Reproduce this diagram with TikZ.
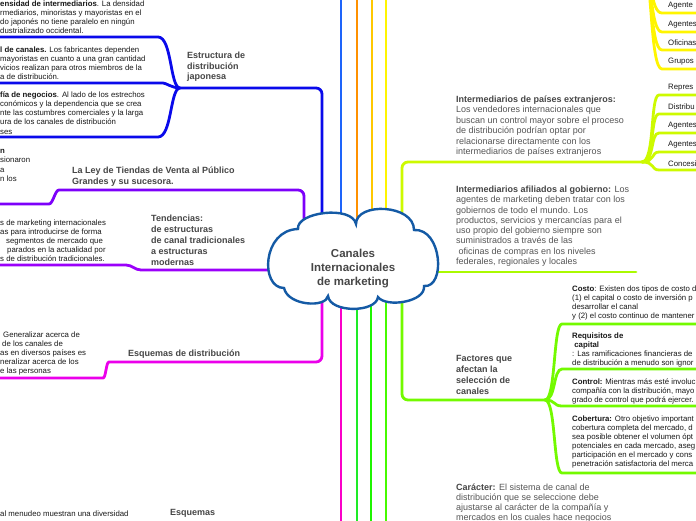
\documentclass[tikz,border=0pt]{standalone}
\usepackage{fontspec}
\setmainfont{Liberation Sans}
\definecolor{cBlue}{RGB}{10,10,235}
\definecolor{cBlueB}{RGB}{30,100,250}
\definecolor{cOrange}{RGB}{255,145,0}
\definecolor{cGold}{RGB}{255,200,0}
\definecolor{cYellow}{RGB}{255,245,0}
\definecolor{cLimeA}{RGB}{205,250,0}
\definecolor{cLimeB}{RGB}{170,250,0}
\definecolor{cLimeC}{RGB}{115,250,0}
\definecolor{cGreenA}{RGB}{70,250,0}
\definecolor{cGreenB}{RGB}{30,245,0}
\definecolor{cGreenC}{RGB}{30,235,40}
\definecolor{cMagA}{RGB}{235,0,235}
\definecolor{cMagB}{RGB}{250,0,200}
\definecolor{cPurA}{RGB}{155,0,250}
\definecolor{cPurB}{RGB}{125,0,250}
\definecolor{cloudc}{RGB}{20,90,165}
\definecolor{topic}{RGB}{70,70,70}
\definecolor{body}{RGB}{85,85,85}
\definecolor{small}{RGB}{25,25,25}
\tikzset{
  conn/.style={line width=2.8pt, line cap=round, rounded corners=6pt},
  topicT/.style={anchor=north west, inner sep=0pt, align=left, text=topic,
    font=\fontsize{9}{10.6}\selectfont\bfseries},
  bodyT/.style={anchor=north west, inner sep=0pt, align=left, text=body,
    font=\fontsize{9}{10.4}\selectfont},
  smallT/.style={anchor=north west, inner sep=0pt, align=left, text=small,
    font=\fontsize{7.8}{9.2}\selectfont},
  cloudline/.style={draw=cloudc, line width=2.4pt, fill=white, line join=miter},
  centreT/.style={inner sep=0pt, align=center, text=topic,
    font=\fontsize{11.5}{14}\selectfont\bfseries}
}
\begin{document}
\begin{tikzpicture}[x=1pt,y=-1pt]
\useasboundingbox (0,0) rectangle (696,520);
\fill[white] (0,0) rectangle (696,520);
\coordinate (C0) at (352,258);

% ---------- top verticals ----------
\coordinate (v1) at (341,-6);
\coordinate (v2) at (357,-6);
\coordinate (v3) at (372,-6);
\coordinate (v4) at (386,-6);
\draw[conn,cBlueB] (v1 |- C0) -- (v1);
\draw[conn,cOrange] (v2 |- C0) -- (v2);
\draw[conn,cGold] (v3 |- C0) -- (v3);
\draw[conn,cYellow] (v4 |- C0) -- (v4);

% ---------- bottom verticals ----------
\coordinate (w1) at (341,526);
\coordinate (w2) at (357,526);
\coordinate (w3) at (371,526);
\coordinate (w4) at (386,526);
\draw[conn,cMagB] (w1 |- C0) -- (w1);
\draw[conn,cGreenC] (w2 |- C0) -- (w2);
\draw[conn,cGreenB] (w3 |- C0) -- (w3);
\draw[conn,cGreenA] (w4 |- C0) -- (w4);

% ---------- Estructura (blue) ----------
\coordinate (eC) at (322,88);
\coordinate (eB) at (180,88);
\coordinate (eL1) at (152,37);  \coordinate (eE1) at (-6,37);
\coordinate (eL2) at (157,83);  \coordinate (eE2) at (-6,83);
\coordinate (eL3) at (152,137); \coordinate (eE3) at (-6,137);
\draw[conn,cBlue] (eC |- C0) -- (eC) -- (eB);
\draw[conn,cBlue] (eB) .. controls (170,88) and (172,37) .. (eL1) -- (eE1);
\draw[conn,cBlue] (eB) .. controls (172,88) and (166,83) .. (eL2) -- (eE2);
\draw[conn,cBlue] (eB) .. controls (170,88) and (172,137) .. (eL3) -- (eE3);

% ---------- La Ley (purple) ----------
\coordinate (lC) at (304,190);
\coordinate (lB) at (65,190);
\coordinate (lL) at (43,204);
\coordinate (lE) at (-6,204);
\draw[conn,cPurB] (lC |- C0) -- (lC) -- (lB) .. controls (55,190) and (53,204) .. (lL) -- (lE);

% ---------- Tendencias (purple) ----------
\coordinate (tB) at (147,270);
\coordinate (tL) at (120,265);
\coordinate (tE) at (-6,265);
\draw[conn,cPurA] (C0 |- tB) -- (tB) .. controls (135,270) and (132,265) .. (tL) -- (tE);

% ---------- Esquemas de distribucion (magenta) ----------
\coordinate (sC) at (322,362);
\coordinate (sB) at (115,362);
\coordinate (sL) at (97,378);
\coordinate (sE) at (-6,378);
\draw[conn,cMagA] (sC |- C0) -- (sC) -- (sB) .. controls (106,362) and (106,378) .. (sL) -- (sE);

% ---------- Paises extranjeros (lime) ----------
\coordinate (pC) at (402,162);
\coordinate (pB) at (642,162);
\draw[conn,cLimeA] (pC |- C0) -- (pC) -- (pB);
\foreach \yy/\cc in {95/650,114/650,133/650,152/651,170/651}{
  \draw[conn,cLimeA] (pB) .. controls (655,162) and (\cc,\yy) .. (665,\yy) -- (702,\yy);
}

% ---------- Gobierno (lime) ----------
\coordinate (gE) at (636,272);
\draw[conn,cLimeB] (C0 |- gE) -- (gE);

% ---------- Factores (green) ----------
\coordinate (fC) at (402,400);
\coordinate (fB) at (545,400);
\draw[conn,cLimeC] (fC |- C0) -- (fC) -- (fB);
\foreach \yy in {324,369,406,473}{
  \draw[conn,cLimeC] (fB) .. controls (556,400) and (553,\yy) .. (568,\yy) -- (702,\yy);
}

% ---------- yellow fan top right ----------
\coordinate (yB) at (644,-30);
\foreach \yy in {13,32,50,69}{
  \draw[conn,cYellow] (yB) .. controls (652,-30) and (650,\yy) .. (668,\yy) -- (702,\yy);
}

% ---------- central cloud ----------
\coordinate (kA) at (298,229);
\coordinate (kB) at (356,224);
\coordinate (kD) at (414,230);
\coordinate (kE) at (424,286);
\coordinate (kF) at (378,297);
\coordinate (kG) at (328,296);
\coordinate (kH) at (284,288);
\path[cloudline] (kA) .. controls (296,212) and (352,205) .. (kB)
  .. controls (356,202) and (414,204) .. (kD)
  .. controls (442,228) and (446,288) .. (kE)
  .. controls (426,302) and (386,308) .. (kF)
  .. controls (376,313) and (330,313) .. (kG)
  .. controls (326,308) and (288,306) .. (kH)
  .. controls (260,288) and (262,230) .. (kA) -- cycle;
\node[centreT] (Ct) at (353,268.5) {Canales\\Internacionales\\de marketing};

% ---------- left texts ----------
\node[smallT] (n1) at (0,0.5) {\textbf{ensidad de intermediarios}. La densidad\\rmediarios, minoristas y mayoristas en el\\do japonés no tiene paralelo en ningún\\dustrializado occidental.};
\node[smallT] (n2) at (0,46.3) {\textbf{l de canales.} Los fabricantes dependen\\mayoristas en cuanto a una gran cantidad\\vicios realizan para otros miembros de la\\a de distribución.};
\node[smallT] (n3) at (0,91.3) {\textbf{fía de negocios}. Al lado de los estrechos\\conómicos y la dependencia que se crea\\nte las costumbres comerciales y la larga\\ura de los canales de distribución\\ses};
\node[topicT] (estr) at (187,51.7) {Estructura de\\distribución\\japonesa};

\node[smallT] (n4) at (0,149.3) {\textbf{n}\\sionaron\\a\\n los};
\node[topicT, font=\fontsize{9}{11}\selectfont\bfseries] (ley) at (72,166.7) {La Ley de Tiendas de Venta al Público\\Grandes y su sucesora.};

\node[smallT] (n5) at (0,219.3) {s de marketing internacionales\\as para introducirse de forma\\\hspace*{6pt}segmentos de mercado que\\\hspace*{7pt}parados en la actualidad por\\s de distribución tradicionales.};
\node[topicT, font=\fontsize{9}{11}\selectfont\bfseries] (tend) at (151,214.7) {Tendencias:\\de estructuras\\de canal tradicionales\\a estructuras\\modernas};

\node[smallT] (n6) at (0,331.3) {\hspace*{3pt}Generalizar acerca de\\\hspace*{2pt}de los canales de\\as en diversos países es\\neralizar acerca de los\\e las personas};
\node[topicT] (esqd) at (128,349.7) {Esquemas de distribución};

\node[smallT] (n7) at (0,510.3) {al menudeo muestran una diversidad};
\node[topicT] (esq) at (170,509.2) {Esquemas};

% ---------- right texts ----------
\node[bodyT] (pais) at (456,95.7) {\textcolor{topic}{\textbf{Intermediarios de países extranjeros:}}\\Los vendedores internacionales que\\buscan un control mayor sobre el proceso\\de distribución podrían optar por\\relacionarse directamente con los\\intermediarios de países extranjeros};
\node[smallT] (r1) at (668,84.3) {Repres};
\node[smallT] (r2) at (668,103.3) {Distribu};
\node[smallT] (r3) at (668,122.3) {Agentes};
\node[smallT] (r4) at (668,141.3) {Agentes};
\node[smallT] (r5) at (668,160.3) {Concesi};

\node[smallT] (y1) at (668,2.3) {Agente};
\node[smallT] (y2) at (668,21.3) {Agentes};
\node[smallT] (y3) at (668,39.3) {Oficinas};
\node[smallT] (y4) at (668,58.3) {Grupos};

\node[bodyT, font=\fontsize{9}{10.3}\selectfont] (gob) at (456,185.7) {\textcolor{topic}{\textbf{Intermediarios afiliados al gobierno:}} Los\\agentes de marketing deben tratar con los\\gobiernos de todo el mundo. Los\\productos, servicios y mercancías para el\\uso propio del gobierno siempre son\\suministrados a través de las\\\hspace*{2.5pt}oficinas de compras en los niveles\\federales, regionales y locales};

\node[topicT, font=\fontsize{9}{11}\selectfont\bfseries] (fact) at (456,354.7) {Factores que\\afectan la\\selección de\\canales};

\node[smallT, font=\fontsize{7.8}{9}\selectfont] (k1) at (572,285.3) {\textbf{Costo}: Existen dos tipos de costo d\\(1) el capital o costo de inversión p\\desarrollar el canal\\y (2) el costo continuo de mantener};
\node[smallT, font=\fontsize{7.8}{9}\selectfont] (k2) at (572,332.3) {\textbf{Requisitos de}\\\hspace*{2.2pt}\textbf{capital}\\: Las ramificaciones financieras de\\de distribución a menudo son ignor};
\node[smallT, font=\fontsize{7.8}{9}\selectfont] (k3) at (572,378.3) {\textbf{Control:} Mientras más esté involuc\\compañía con la distribución, mayo\\grado de control que podrá ejercer.};
\node[smallT, font=\fontsize{7.8}{9}\selectfont] (k4) at (572,415.3) {\textbf{Cobertura:} Otro objetivo important\\cobertura completa del mercado, d\\sea posible obtener el volumen ópt\\potenciales en cada mercado, aseg\\participación en el mercado y cons\\penetración satisfactoria del merca};

\node[bodyT, font=\fontsize{9}{10.1}\selectfont] (car) at (456,483.2) {\textcolor{topic}{\textbf{Carácter:}} El sistema de canal de\\distribución que se seleccione debe\\ajustarse al carácter de la compañía y\\mercados en los cuales hace negocios};
\end{tikzpicture}
\end{document}
